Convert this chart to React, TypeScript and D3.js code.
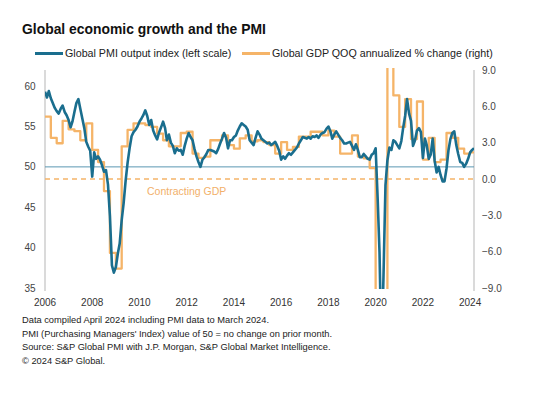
import { useEffect, useRef } from "react";
import * as d3 from "d3";

// Global PMI output index, monthly Jan 2006 - Mar 2024 (left scale)
const pmiValues = [
  59.3, 58.6, 59.4, 58.5, 57.9, 57.3, 56.9, 56.6, 57.2, 57.6, 56.8, 56.4, // 2006
  55.8, 54.9, 55.6, 56.8, 57.9, 58.4, 57.2, 56.0, 54.8, 53.1, 52.5, 52.0, // 2007
  48.8, 51.8, 51.0, 51.3, 50.9, 50.2, 49.4, 49.6, 47.8, 43.9, 37.8, 36.9, // 2008
  37.6, 39.3, 40.5, 43.4, 45.5, 48.3, 50.5, 52.3, 53.8, 54.3, 54.6, 55.0, // 2009
  55.6, 56.0, 56.4, 57.0, 56.3, 55.2, 55.8, 54.5, 53.9, 53.4, 54.3, 54.9, // 2010
  55.6, 54.8, 53.3, 54.0, 53.0, 52.6, 51.7, 52.3, 52.0, 52.1, 51.5, 52.6, // 2011
  53.5, 54.2, 53.7, 53.3, 52.2, 51.3, 50.6, 50.0, 50.9, 51.2, 51.6, 52.1, // 2012
  52.1, 52.0, 51.9, 51.7, 52.2, 52.9, 53.5, 54.2, 53.6, 52.3, 53.3, 53.3, // 2013
  53.7, 53.9, 54.5, 55.0, 55.4, 55.2, 55.0, 54.6, 53.3, 53.0, 52.7, 53.6, // 2014
  54.4, 54.0, 53.5, 53.3, 53.1, 52.9, 53.0, 52.7, 52.9, 53.1, 52.6, 52.0, // 2015
  50.9, 51.3, 51.0, 51.4, 51.7, 51.5, 51.8, 52.1, 52.4, 52.9, 53.3, 53.7, // 2016
  53.6, 53.5, 53.7, 53.5, 53.8, 53.7, 53.9, 53.6, 54.0, 54.2, 54.3, 54.7, // 2017
  55.0, 54.4, 53.5, 54.0, 54.4, 54.0, 53.6, 53.3, 52.9, 52.9, 53.0, 53.1, // 2018
  52.6, 52.1, 52.8, 52.1, 51.2, 51.2, 51.6, 51.3, 51.0, 50.9, 51.5, 51.7, // 2019
  52.3, 46.1, 39.4, 26.2, 36.3, 47.7, 50.8, 52.4, 52.1, 53.3, 53.1, 52.7, // 2020
  52.3, 53.2, 54.8, 56.3, 58.4, 56.6, 55.7, 52.6, 53.3, 54.5, 54.8, 54.3, // 2021
  51.1, 53.5, 52.7, 51.0, 51.5, 53.5, 50.8, 49.3, 50.0, 49.0, 48.2, 48.2, // 2022
  49.8, 52.1, 53.4, 54.2, 54.4, 52.7, 51.6, 50.6, 50.5, 50.0, 50.4, 51.0, // 2023
  51.8, 52.1, 52.3, // 2024
];

// Global GDP QOQ annualized % change, quarterly 2006 Q1 - 2024 Q1 (right scale)
const gdpValues = [
  5.15, 3.4, 2.95, 4.8, // 2006
  4.1, 3.95, 3.2, 4.6, // 2007
  2.4, 1.4, -1.0, -6.1, // 2008
  -7.4, 2.7, 4.05, 4.6, // 2009
  4.6, 4.45, 4.3, 3.75, // 2010
  3.2, 2.7, 2.7, 3.8, // 2011
  3.9, 2.1, 1.75, 1.85, // 2012
  3.2, 3.2, 3.6, 2.8, // 2013
  2.5, 3.35, 3.6, 3.1, // 2014
  3.2, 3.05, 2.8, 2.1, // 2015
  3.05, 2.4, 2.65, 3.5, // 2016
  3.5, 3.9, 3.9, 3.6, // 2017
  4.0, 3.5, 2.1, 2.1, // 2018
  3.6, 1.85, 1.7, 0.9, // 2019
  -13.5, -30.0, 33.0, 6.9, // 2020
  4.3, 6.6, 3.3, 6.4, // 2021
  1.6, 3.4, 1.4, 1.6, // 2022
  3.8, 3.4, 2.5, 2.1, // 2023
  2.2, // 2024
];

const leftTicks = [35, 40, 45, 50, 55, 60];
const rightTicks = [-9, -6, -3, 0, 3, 6, 9];
const yearTicks = [2006, 2008, 2010, 2012, 2014, 2016, 2018, 2020, 2022, 2024];

const notes = [
  "Data compiled April 2024 including PMI data to March 2024.",
  "PMI (Purchasing Managers' Index) value of 50 = no change on prior month.",
  "Source: S&P Global PMI with J.P. Morgan, S&P Global Market Intelligence.",
  "\u00a9 2024 S&P Global.",
];

const TEAL = "#1a6e8e";
const ORANGE = "#f5b468";
const FONT = "'Liberation Sans', Arial, sans-serif";

export default function App() {
  const ref = useRef<SVGSVGElement>(null);

  useEffect(() => {
    const svg = d3.select(ref.current);
    svg.selectAll("*").remove();

    const left = 45, right = 474, top = 70, bottom = 288;
    const start = new Date(2006, 0, 1);
    const end = new Date(2024, 2, 1);

    const x = d3.scaleTime().domain([start, end]).range([left, right]);
    const yL = d3.scaleLinear().domain([35, 62]).range([bottom, top]);
    const yR = d3.scaleLinear().domain([-9, 9]).range([bottom, top]);

    const months = d3.timeMonth.range(start, new Date(2024, 3, 1));
    const pmi = pmiValues.map((v, i) => ({ date: months[i], v }));
    const quarters = d3.timeMonth.every(3)!.range(start, new Date(2024, 1, 1));
    const gdp = gdpValues.map((v, i) => ({ date: quarters[i], v }));
    gdp.push({ date: end, v: gdpValues[gdpValues.length - 1] });

    svg
      .append("defs")
      .append("clipPath")
      .attr("id", "plot")
      .append("rect")
      .attr("x", left)
      .attr("y", top - 2)
      .attr("width", right - left)
      .attr("height", bottom - top + 3);

    // title + legend
    svg.append("text")
      .attr("x", 22).attr("y", 34)
      .attr("font-family", FONT).attr("font-size", 13.9).attr("font-weight", "bold")
      .attr("fill", "#111")
      .text("Global economic growth and the PMI");

    const legend = [
      { x: 35, label: "Global PMI output index (left scale)", color: TEAL },
      { x: 242, label: "Global GDP QOQ annualized % change (right)", color: ORANGE },
    ];
    const lg = svg.append("g").selectAll("g").data(legend).join("g");
    lg.append("line")
      .attr("x1", (d) => d.x).attr("x2", (d) => d.x + 28)
      .attr("y1", 53.5).attr("y2", 53.5)
      .attr("stroke", (d) => d.color).attr("stroke-width", 3);
    lg.append("text")
      .attr("x", (d) => d.x + 30).attr("y", 57)
      .attr("font-family", FONT).attr("font-size", 10.7).attr("fill", "#222")
      .text((d) => d.label);

    // axes lines
    svg.append("line")
      .attr("x1", left).attr("x2", left).attr("y1", top).attr("y2", bottom + 3)
      .attr("stroke", "#b5b5b5");
    svg.append("line")
      .attr("x1", right).attr("x2", right).attr("y1", top).attr("y2", bottom + 3)
      .attr("stroke", "#b5b5b5");

    svg.append("g").selectAll("text").data(leftTicks).join("text")
      .attr("x", 35.5).attr("y", (d) => yL(d) + 3.6)
      .attr("text-anchor", "end")
      .attr("font-family", FONT).attr("font-size", 10).attr("fill", "#444")
      .text((d) => d);

    svg.append("g").selectAll("text").data(rightTicks).join("text")
      .attr("x", 482).attr("y", (d) => yR(d) + 3.6)
      .attr("font-family", FONT).attr("font-size", 10).attr("fill", "#444")
      .text((d) => d3.format(".1f")(d));

    svg.append("g").selectAll("text").data(yearTicks).join("text")
      .attr("x", (d) => x(new Date(d, 0, 1)))
      .attr("y", 306)
      .attr("text-anchor", "middle")
      .attr("font-family", FONT).attr("font-size", 10).attr("fill", "#333")
      .text((d) => d);

    // reference lines
    svg.append("line")
      .attr("x1", left).attr("x2", right)
      .attr("y1", yL(50)).attr("y2", yL(50))
      .attr("stroke", "#5b97b3").attr("stroke-width", 1);
    svg.append("line")
      .attr("x1", left).attr("x2", right)
      .attr("y1", yR(0)).attr("y2", yR(0))
      .attr("stroke", ORANGE).attr("stroke-width", 1.4)
      .attr("stroke-dasharray", "5,4");
    svg.append("text")
      .attr("x", 147).attr("y", 194.5)
      .attr("font-family", FONT).attr("font-size", 10.5).attr("fill", "#f2b06a")
      .text("Contracting GDP");

    const series = svg.append("g").attr("clip-path", "url(#plot)");

    const gdpLine = d3.line<{ date: Date; v: number }>()
      .x((d) => x(d.date)).y((d) => yR(d.v))
      .curve(d3.curveStepAfter);
    series.append("path")
      .attr("d", gdpLine(gdp))
      .attr("fill", "none").attr("stroke", ORANGE).attr("stroke-width", 2.3)
      .attr("stroke-linejoin", "round");

    const pmiLine = d3.line<{ date: Date; v: number }>()
      .x((d) => x(d.date)).y((d) => yL(d.v));
    series.append("path")
      .attr("d", pmiLine(pmi))
      .attr("fill", "none").attr("stroke", TEAL).attr("stroke-width", 2.6)
      .attr("stroke-linejoin", "round");

    // footnotes
    svg.append("g").selectAll("text").data(notes).join("text")
      .attr("x", 22).attr("y", (d, i) => 323 + i * 13.7)
      .attr("font-family", FONT).attr("font-size", 9.3).attr("fill", "#222")
      .text((d) => d);
  }, []);

  return (
    <svg
      ref={ref}
      width={543}
      height={397}
      style={{ position: "absolute", left: 0, top: 0, background: "#fff" }}
    />
  );
}
